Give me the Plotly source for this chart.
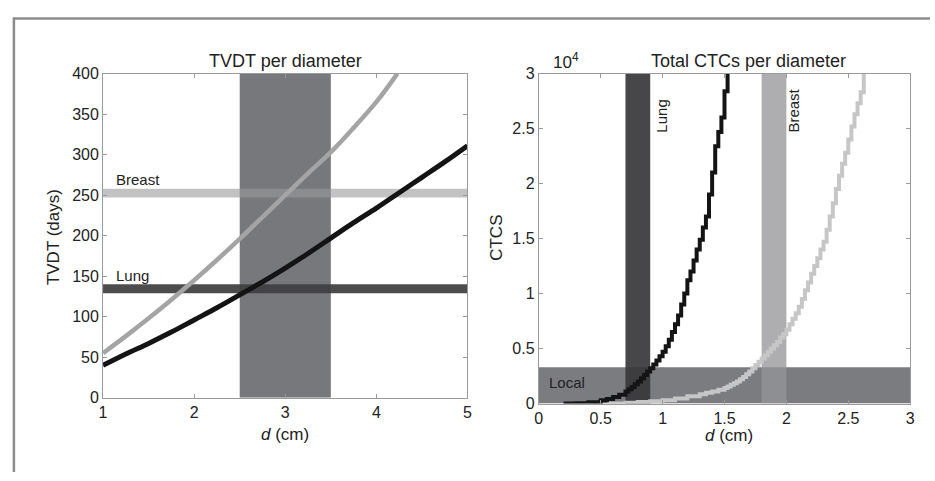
import plotly.graph_objects as go

# ---------------- data ----------------
# Left panel: TVDT (days) vs diameter d (cm)
d_breast_tvdt = [1.0, 1.25, 1.5, 1.75, 2.0, 2.25, 2.5, 2.75, 3.0, 3.25, 3.5, 3.75, 4.0, 4.23]
tvdt_breast = [55, 76, 98, 121, 145, 170, 196, 223, 250, 277, 303, 333, 365, 400]
d_lung_tvdt = [1.0, 1.25, 1.5, 1.75, 2.0, 2.25, 2.5, 2.75, 3.0, 3.25, 3.5, 3.75, 4.0, 4.25, 4.5, 4.75, 5.0]
tvdt_lung = [40, 54, 67, 81, 96, 111, 127, 143, 160, 178, 197, 216, 234, 253, 272, 291, 311]
breast_tvdt_band = [247, 258]
lung_tvdt_band = [129, 140]
size_band = [2.5, 3.5]

# Right panel: total CTCs (x10^4) vs diameter d (cm)
d_lung_ctc = [0.2, 0.3, 0.4, 0.5, 0.55, 0.6, 0.65,
              0.7, 0.725, 0.75, 0.775, 0.8, 0.825, 0.85, 0.875, 0.9, 0.925, 0.95, 0.975,
              1.0, 1.025, 1.05, 1.075, 1.1, 1.125, 1.15, 1.175, 1.2, 1.225, 1.25, 1.275,
              1.3, 1.325, 1.35, 1.375, 1.4, 1.425, 1.45, 1.475, 1.5, 1.525]
ctc_lung = [0.0, 0.003, 0.012, 0.03, 0.04, 0.06, 0.08,
            0.11, 0.13, 0.15, 0.175, 0.2, 0.23, 0.26, 0.29, 0.32, 0.355, 0.39, 0.43,
            0.47, 0.52, 0.58, 0.65, 0.72, 0.8, 0.9, 1.0, 1.12, 1.2, 1.3, 1.4,
            1.49, 1.6, 1.7, 1.9, 2.1, 2.34, 2.47, 2.6, 2.84, 3.0]
d_breast_ctc = [0.55, 0.7, 0.8, 0.9, 1.0, 1.1, 1.2, 1.3, 1.35, 1.4, 1.45,
                1.5, 1.525, 1.55, 1.575, 1.6, 1.625, 1.65, 1.675, 1.7, 1.725, 1.75, 1.775,
                1.8, 1.825, 1.85, 1.875, 1.9, 1.925, 1.95, 1.975, 2.0, 2.025, 2.05, 2.075,
                2.1, 2.125, 2.15, 2.175, 2.2, 2.225, 2.25, 2.275, 2.3, 2.325, 2.35, 2.375,
                2.4, 2.425, 2.45, 2.475, 2.5, 2.525, 2.55, 2.575, 2.6, 2.625]
ctc_breast = [0.0, 0.008, 0.013, 0.02, 0.03, 0.045, 0.065, 0.085, 0.097, 0.11, 0.125,
              0.14, 0.155, 0.17, 0.185, 0.2, 0.22, 0.24, 0.265, 0.29, 0.32, 0.35, 0.38,
              0.41, 0.44, 0.47, 0.5, 0.53, 0.56, 0.6, 0.63, 0.67, 0.72, 0.77, 0.82,
              0.88, 0.95, 1.03, 1.1, 1.18, 1.25, 1.32, 1.4, 1.47, 1.58, 1.7, 1.82,
              1.95, 2.07, 2.18, 2.28, 2.4, 2.52, 2.63, 2.73, 2.83, 3.0]
lung_ctc_band = [0.7, 0.9]
breast_ctc_band = [1.8, 2.0]
local_band = [0.0, 0.33]

left_xticks = [1, 2, 3, 4, 5]
left_yticks = [0, 50, 100, 150, 200, 250, 300, 350, 400]
right_xticks = [0, 0.5, 1, 1.5, 2, 2.5, 3]
right_xticklabels = ["0", "0.5", "1", "1.5", "2", "2.5", "3"]
right_yticks = [0, 0.5, 1, 1.5, 2, 2.5, 3]
right_yticklabels = ["0", "0.5", "1", "1.5", "2", "2.5", "3"]

# ---------------- layout helpers ----------------
W, H = 935, 481
FONT = "Liberation Sans, Arial, Helvetica, sans-serif"
TXT = "#222222"


def px(x):
    return x / W


def py(y):
    return 1 - y / H


fig = go.Figure()

# left curves
fig.add_trace(go.Scatter(x=d_breast_tvdt, y=tvdt_breast, mode="lines", line_shape="spline",
                         line=dict(color="#a4a4a4", width=4.5), xaxis="x", yaxis="y"))
fig.add_trace(go.Scatter(x=d_lung_tvdt, y=tvdt_lung, mode="lines", line_shape="spline",
                         line=dict(color="#141414", width=5), xaxis="x", yaxis="y"))
# right curves
fig.add_trace(go.Scatter(x=d_breast_ctc, y=ctc_breast, mode="lines", line_shape="hv",
                         line=dict(color="#c6c6c6", width=4), xaxis="x2", yaxis="y2"))
fig.add_trace(go.Scatter(x=d_lung_ctc, y=ctc_lung, mode="lines", line_shape="hv",
                         line=dict(color="#141414", width=4), xaxis="x2", yaxis="y2"))

shapes = []
# left panel bands
shapes.append(dict(type="rect", xref="x", yref="y", x0=size_band[0], x1=size_band[1], y0=0, y1=400,
                   fillcolor="#77787c", line=dict(width=0), layer="below"))
shapes.append(dict(type="rect", xref="x", yref="y", x0=1, x1=5, y0=breast_tvdt_band[0], y1=breast_tvdt_band[1],
                   fillcolor="rgba(153,153,153,0.6)", line=dict(width=0), layer="below"))
shapes.append(dict(type="rect", xref="x", yref="y", x0=1, x1=5, y0=lung_tvdt_band[0], y1=lung_tvdt_band[1],
                   fillcolor="rgba(63,63,65,0.93)", line=dict(width=0), layer="below"))
# right panel bands
shapes.append(dict(type="rect", xref="x2", yref="y2", x0=0, x1=3, y0=local_band[0], y1=local_band[1],
                   fillcolor="#7b7c80", line=dict(width=0), layer="below"))
shapes.append(dict(type="rect", xref="x2", yref="y2", x0=lung_ctc_band[0], x1=lung_ctc_band[1], y0=0, y1=3,
                   fillcolor="rgba(55,55,57,0.92)", line=dict(width=0), layer="below"))
shapes.append(dict(type="rect", xref="x2", yref="y2", x0=breast_ctc_band[0], x1=breast_ctc_band[1], y0=0, y1=3,
                   fillcolor="rgba(148,149,151,0.76)", line=dict(width=0), layer="below"))
# outer frame (top and left edges)
shapes.append(dict(type="line", xref="paper", yref="paper", x0=px(9), x1=1.0, y0=py(11), y1=py(11),
                   line=dict(color="#8c8c8c", width=2.5)))
shapes.append(dict(type="line", xref="paper", yref="paper", x0=px(10), x1=px(10), y0=py(10), y1=0,
                   line=dict(color="#8c8c8c", width=2.5)))


def paper_text(text, x, y, size, angle=0):
    return dict(text=text, x=px(x), y=py(y), xref="paper", yref="paper", xanchor="center",
                yanchor="middle", textangle=angle, showarrow=False,
                font=dict(size=size, color=TXT, family=FONT))


ann = [
    paper_text("TVDT per diameter", 284, 55, 18),
    paper_text("Total CTCs per diameter", 752, 55, 18),
    paper_text("10<sup>4</sup>", 567, 55, 17),
    paper_text("<i>d</i> (cm)", 284, 442, 17),
    paper_text("<i>d</i> (cm)", 732, 443, 17),
    paper_text("TVDT (days)", 50, 238, 17, -90),
    paper_text("CTCS", 497, 238, 17, -90),
]
# band labels
ann.append(dict(text="Breast", x=1.12, y=269, xref="x", yref="y", xanchor="left", yanchor="middle",
                showarrow=False, font=dict(size=15, color=TXT, family=FONT)))
ann.append(dict(text="Lung", x=1.12, y=151, xref="x", yref="y", xanchor="left", yanchor="middle",
                showarrow=False, font=dict(size=15, color=TXT, family=FONT)))
ann.append(dict(text="Lung", x=0.99, y=2.78, xref="x2", yref="y2", xanchor="center", yanchor="top",
                textangle=-90, showarrow=False, font=dict(size=15, color=TXT, family=FONT)))
ann.append(dict(text="Breast", x=2.06, y=2.88, xref="x2", yref="y2", xanchor="center", yanchor="top",
                textangle=-90, showarrow=False, font=dict(size=15, color=TXT, family=FONT)))
ann.append(dict(text="Local", x=0.07, y=0.19, xref="x2", yref="y2", xanchor="left", yanchor="middle",
                showarrow=False, font=dict(size=15, color=TXT, family=FONT)))

axis_common = dict(showline=True, mirror="ticks", linecolor="#9a9a9a", linewidth=1,
                   ticks="inside", ticklen=4, tickcolor="#9a9a9a", showgrid=False, zeroline=False,
                   tickfont=dict(size=16, color=TXT, family=FONT), fixedrange=True)

fig.update_layout(
    width=W, height=H,
    margin=dict(l=0, r=0, t=0, b=0),
    paper_bgcolor="white", plot_bgcolor="white",
    showlegend=False,
    xaxis=dict(domain=[px(100), px(468)], range=[1, 5], tickvals=left_xticks, anchor="y", **axis_common),
    yaxis=dict(domain=[py(404), py(68)], range=[0, 400], tickvals=left_yticks, anchor="x", **axis_common),
    xaxis2=dict(domain=[px(540), px(915)], range=[0, 3], tickvals=right_xticks, ticktext=right_xticklabels,
                anchor="y2", **axis_common),
    yaxis2=dict(domain=[py(410), py(68)], range=[0, 3], tickvals=right_yticks, ticktext=right_yticklabels,
                anchor="x2", **axis_common),
    shapes=shapes,
    annotations=ann,
)

fig.write_html("out.html", config={"displayModeBar": False},
               post_script="document.body.style.margin='0';document.body.style.overflow='hidden';")
